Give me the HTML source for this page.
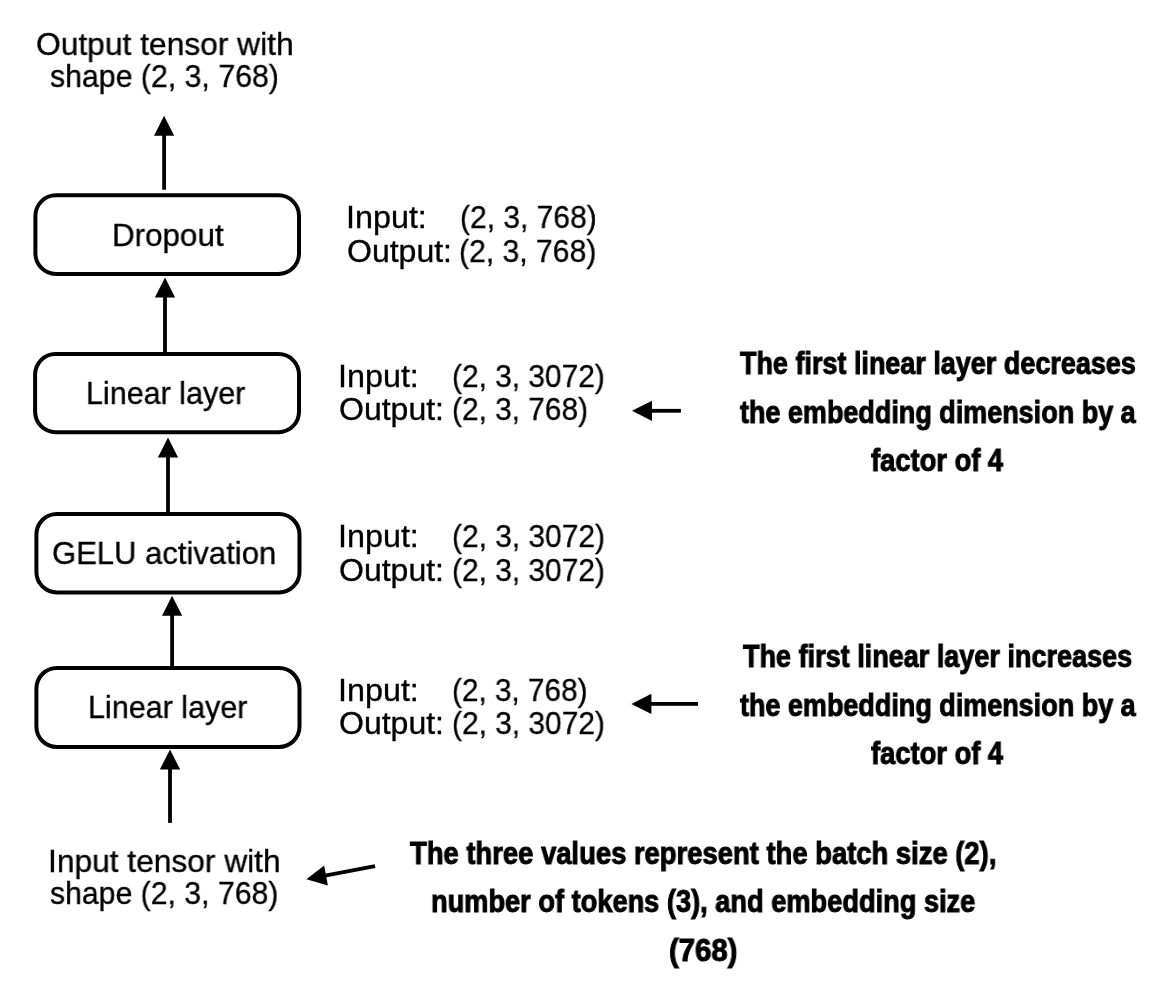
<!DOCTYPE html>
<html><head><meta charset="utf-8"><style>
html,body{margin:0;padding:0;background:#fff;}
body{width:1170px;height:1008px;position:relative;overflow:hidden;}
.t{-webkit-text-stroke:0.35px #000;position:absolute;font-family:"Liberation Sans",sans-serif;line-height:1;white-space:pre;color:#000;transform-origin:0 0;will-change:transform;}
svg{position:absolute;left:0;top:0;}
</style></head><body>
<svg width="1170" height="1008" viewBox="0 0 1170 1008">
<rect x="35.40" y="195.30" width="263.60" height="78.60" rx="20.50" fill="none" stroke="#000" stroke-width="4.0"/>
<rect x="35.10" y="354.10" width="263.90" height="78.10" rx="20.50" fill="none" stroke="#000" stroke-width="4.0"/>
<rect x="36.40" y="514.00" width="263.10" height="78.40" rx="20.50" fill="none" stroke="#000" stroke-width="4.0"/>
<rect x="36.40" y="668.00" width="263.10" height="79.00" rx="20.50" fill="none" stroke="#000" stroke-width="4.0"/>
<rect x="162.20" y="134.80" width="3.8" height="54.90" fill="#000"/>
<polygon points="164.10,115.80 154.00,135.80 174.20,135.80" fill="#000"/>
<rect x="163.10" y="296.50" width="3.8" height="56.50" fill="#000"/>
<polygon points="165.00,277.50 154.90,297.50 175.10,297.50" fill="#000"/>
<rect x="166.10" y="456.40" width="3.8" height="56.60" fill="#000"/>
<polygon points="168.00,437.40 157.90,457.40 178.10,457.40" fill="#000"/>
<rect x="170.20" y="614.80" width="3.8" height="52.20" fill="#000"/>
<polygon points="172.10,595.80 162.00,615.80 182.20,615.80" fill="#000"/>
<rect x="168.10" y="768.40" width="3.8" height="54.50" fill="#000"/>
<polygon points="170.00,749.40 159.90,769.40 180.10,769.40" fill="#000"/>
<rect x="651.00" y="408.90" width="29.90" height="3.8" fill="#000"/>
<polygon points="632.00,410.80 652.00,400.70 652.00,420.90" fill="#000"/>
<rect x="650.40" y="702.00" width="47.60" height="3.8" fill="#000"/>
<polygon points="631.40,703.90 651.40,693.80 651.40,714.00" fill="#000"/>
<line x1="325.07" y1="875.66" x2="375.00" y2="866.20" stroke="#000" stroke-width="3.8"/>
<polygon points="306.40,879.20 327.93,885.40 324.17,865.55" fill="#000"/>
</svg>
<div class="t" style="left:35.59px;top:27.90px;font-size:32px;transform:scaleX(0.9920);">Output tensor with</div>
<div class="t" style="left:50.17px;top:59.50px;font-size:32px;transform:scaleX(0.9461);">shape (2, 3, 768)</div>
<div class="t" style="left:112.27px;top:218.70px;font-size:32px;transform:scaleX(0.9803);">Dropout</div>
<div class="t" style="left:85.94px;top:376.80px;font-size:32px;transform:scaleX(0.9530);">Linear layer</div>
<div class="t" style="left:51.72px;top:536.80px;font-size:32px;transform:scaleX(0.9694);">GELU activation</div>
<div class="t" style="left:87.73px;top:690.80px;font-size:32px;transform:scaleX(0.9536);">Linear layer</div>
<div class="t" style="left:48.42px;top:844.70px;font-size:32px;transform:scaleX(0.9908);">Input tensor with</div>
<div class="t" style="left:50.37px;top:876.50px;font-size:32px;transform:scaleX(0.9440);">shape (2, 3, 768)</div>
<div class="t" style="left:345.87px;top:200.80px;font-size:32px;transform:scaleX(1.0096);">Input:</div>
<div class="t" style="left:459.88px;top:200.80px;font-size:32px;transform:scaleX(0.9371);">(2, 3, 768)</div>
<div class="t" style="left:346.68px;top:234.60px;font-size:32px;transform:scaleX(0.9997);">Output:</div>
<div class="t" style="left:458.67px;top:234.60px;font-size:32px;transform:scaleX(0.9414);">(2, 3, 768)</div>
<div class="t" style="left:338.07px;top:359.90px;font-size:32px;transform:scaleX(1.0096);">Input:</div>
<div class="t" style="left:452.38px;top:359.90px;font-size:32px;transform:scaleX(0.9334);">(2, 3, 3072)</div>
<div class="t" style="left:338.78px;top:393.40px;font-size:32px;transform:scaleX(0.9997);">Output:</div>
<div class="t" style="left:451.69px;top:393.40px;font-size:32px;transform:scaleX(0.9322);">(2, 3, 768)</div>
<div class="t" style="left:338.07px;top:519.70px;font-size:32px;transform:scaleX(1.0096);">Input:</div>
<div class="t" style="left:452.18px;top:519.70px;font-size:32px;transform:scaleX(0.9347);">(2, 3, 3072)</div>
<div class="t" style="left:338.78px;top:553.60px;font-size:32px;transform:scaleX(0.9997);">Output:</div>
<div class="t" style="left:451.68px;top:553.60px;font-size:32px;transform:scaleX(0.9341);">(2, 3, 3072)</div>
<div class="t" style="left:338.07px;top:673.50px;font-size:32px;transform:scaleX(1.0096);">Input:</div>
<div class="t" style="left:452.19px;top:673.50px;font-size:32px;transform:scaleX(0.9287);">(2, 3, 768)</div>
<div class="t" style="left:338.78px;top:707.40px;font-size:32px;transform:scaleX(0.9997);">Output:</div>
<div class="t" style="left:451.68px;top:707.40px;font-size:32px;transform:scaleX(0.9341);">(2, 3, 3072)</div>
<div class="t" style="left:739.63px;top:347.50px;font-size:31px;font-weight:bold;-webkit-text-stroke:1px #000;transform:scaleX(0.8700);">The first linear layer decreases</div>
<div class="t" style="left:739.63px;top:396.60px;font-size:31px;font-weight:bold;-webkit-text-stroke:1px #000;transform:scaleX(0.8700);">the embedding dimension by a</div>
<div class="t" style="left:870.95px;top:444.50px;font-size:31px;font-weight:bold;-webkit-text-stroke:1px #000;transform:scaleX(0.8819);">factor of 4</div>
<div class="t" style="left:743.43px;top:640.70px;font-size:31px;font-weight:bold;-webkit-text-stroke:1px #000;transform:scaleX(0.8721);">The first linear layer increases</div>
<div class="t" style="left:739.63px;top:689.60px;font-size:31px;font-weight:bold;-webkit-text-stroke:1px #000;transform:scaleX(0.8700);">the embedding dimension by a</div>
<div class="t" style="left:870.95px;top:737.50px;font-size:31px;font-weight:bold;-webkit-text-stroke:1px #000;transform:scaleX(0.8819);">factor of 4</div>
<div class="t" style="left:410.33px;top:837.90px;font-size:31px;font-weight:bold;-webkit-text-stroke:1px #000;transform:scaleX(0.8841);">The three values represent the batch size (2),</div>
<div class="t" style="left:430.59px;top:885.50px;font-size:31px;font-weight:bold;-webkit-text-stroke:1px #000;transform:scaleX(0.8779);">number of tokens (3), and embedding size</div>
<div class="t" style="left:668.73px;top:934.80px;font-size:31px;font-weight:bold;-webkit-text-stroke:1px #000;transform:scaleX(0.9461);">(768)</div>
</body></html>
